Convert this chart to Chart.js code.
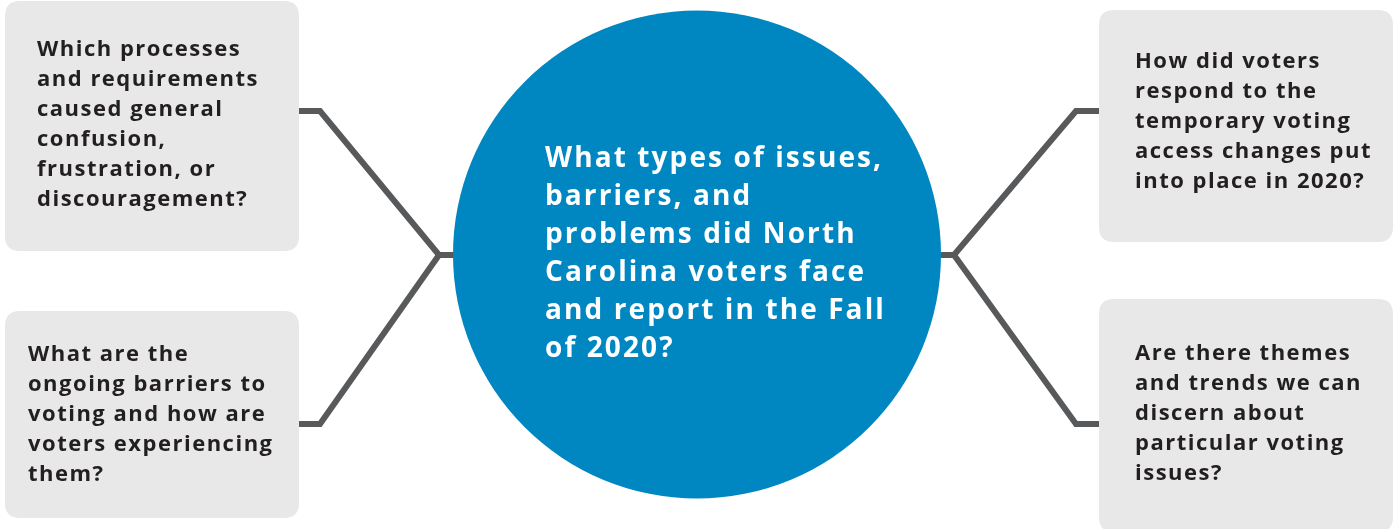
<!DOCTYPE html>
<html>
<head>
<meta charset="utf-8">
<script src="https://cdn.jsdelivr.net/npm/chart.js@4"></script>
<style>
  html, body { margin: 0; padding: 0; background: #fff; }
  #wrap { width: 1393px; height: 529px; }
</style>
</head>
<body>
<div id="wrap"><canvas id="diagram" width="1393" height="529"></canvas></div>
<script>
// Texts of the diagram
const centerQuestion = ['What types of issues,', 'barriers, and', 'problems did North', 'Carolina voters face', 'and report in the Fall', 'of 2020?'];
const questionTopLeft = ['Which processes', 'and requirements', 'caused general', 'confusion,', 'frustration, or', 'discouragement?'];
const questionBottomLeft = ['What are the', 'ongoing barriers to', 'voting and how are', 'voters experiencing', 'them?'];
const questionTopRight = ['How did voters', 'respond to the', 'temporary voting', 'access changes put', 'into place in 2020?'];
const questionBottomRight = ['Are there themes', 'and trends we can', 'discern about', 'particular voting', 'issues?'];

// layout (diagram units = pixels of the original)
const W = 1393, H = 529;
const hub = { x: 697, y: 254.5, r: 244 };
const boxes = [
  { x0: 5, y0: 1, x1: 299, y1: 251, tx: 37, ty: 50, lines: questionTopLeft },
  { x0: 5, y0: 311, x1: 299, y1: 518, tx: 28, ty: 355, lines: questionBottomLeft },
  { x0: 1099, y0: 10, x1: 1393, y1: 242, tx: 1135, ty: 62, lines: questionTopRight },
  { x0: 1099, y0: 299, x1: 1393, y1: 532, tx: 1135, ty: 354, lines: questionBottomRight }
];
const leftConnector = [
  { x: 299, y: 111 }, { x: 320, y: 111 }, { x: 439, y: 255 }, { x: 455, y: 255 },
  { x: 439, y: 255 }, { x: 320, y: 424 }, { x: 299, y: 424 }
];
const rightConnector = [
  { x: 1099, y: 111 }, { x: 1076, y: 111 }, { x: 954, y: 255 }, { x: 938, y: 255 },
  { x: 954, y: 255 }, { x: 1076, y: 424 }, { x: 1099, y: 424 }
];

const BOX_FILL = '#e8e8e8';
const LINE = '#58595b';
const BLUE = '#0087c1';
const FONT = '"Open Sans", "DejaVu Sans", sans-serif';

function roundRect(ctx, x0, y0, x1, y1, r) {
  ctx.beginPath();
  ctx.moveTo(x0 + r, y0);
  ctx.lineTo(x1 - r, y0);
  ctx.quadraticCurveTo(x1, y0, x1, y0 + r);
  ctx.lineTo(x1, y1 - r);
  ctx.quadraticCurveTo(x1, y1, x1 - r, y1);
  ctx.lineTo(x0 + r, y1);
  ctx.quadraticCurveTo(x0, y1, x0, y1 - r);
  ctx.lineTo(x0, y0 + r);
  ctx.quadraticCurveTo(x0, y0, x0 + r, y0);
  ctx.closePath();
}

const boxPlugin = {
  id: 'boxes',
  beforeDatasetsDraw(chart) {
    const { ctx, scales: { x, y } } = chart;
    ctx.save();
    ctx.fillStyle = BOX_FILL;
    boxes.forEach(b => {
      roundRect(ctx, x.getPixelForValue(b.x0), y.getPixelForValue(b.y0),
                x.getPixelForValue(b.x1), y.getPixelForValue(b.y1), 15);
      ctx.fill();
    });
    ctx.restore();
  },
  afterDatasetsDraw(chart) {
    const { ctx, scales: { x, y } } = chart;
    ctx.save();
    ctx.textBaseline = 'middle';
    ctx.textAlign = 'left';
    ctx.fillStyle = '#231f20';
    ctx.font = 'bold 22px ' + FONT;
    ctx.letterSpacing = '1.5px';
    boxes.forEach(b => {
      b.lines.forEach((t, i) => {
        ctx.fillText(t, x.getPixelForValue(b.tx), y.getPixelForValue(b.ty + i * 30));
      });
    });
    ctx.fillStyle = '#ffffff';
    ctx.font = 'bold 28px ' + FONT;
    ctx.letterSpacing = '2.1px';
    centerQuestion.forEach((t, i) => {
      ctx.fillText(t, x.getPixelForValue(545), y.getPixelForValue(159 + i * 38));
    });
    ctx.restore();
  }
};

new Chart(document.getElementById('diagram'), {
  type: 'scatter',
  data: {
    datasets: [
      {
        type: 'bubble',
        data: [{ x: hub.x, y: hub.y, r: hub.r }],
        backgroundColor: BLUE,
        borderWidth: 0,
        clip: false,
        order: 1
      },
      {
        data: leftConnector,
        showLine: true,
        borderColor: LINE,
        borderWidth: 6,
        pointRadius: 0,
        borderJoinStyle: 'miter',
        clip: false,
        order: 2
      },
      {
        data: rightConnector,
        showLine: true,
        borderColor: LINE,
        borderWidth: 6,
        pointRadius: 0,
        borderJoinStyle: 'miter',
        clip: false,
        order: 2
      }
    ]
  },
  options: {
    responsive: false,
    animation: false,
    layout: { padding: 0, autoPadding: false },
    plugins: { legend: { display: false }, tooltip: { enabled: false } },
    scales: {
      x: { type: 'linear', min: 0, max: W, display: false },
      y: { type: 'linear', min: 0, max: H, reverse: true, display: false }
    }
  },
  plugins: [boxPlugin]
});
</script>
</body>
</html>
